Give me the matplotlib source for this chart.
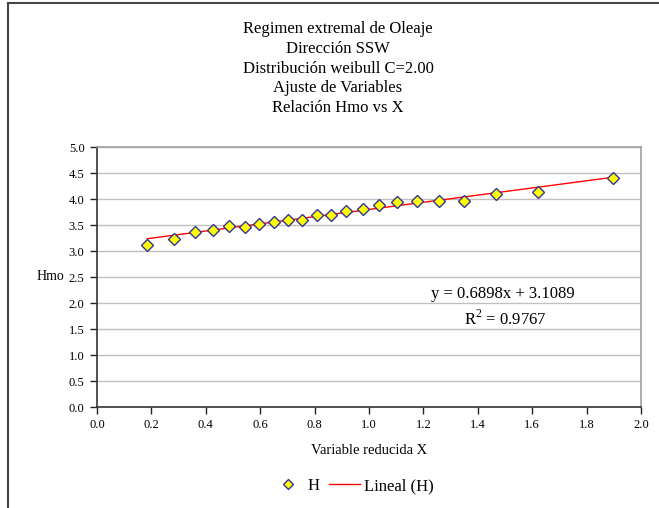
"""
Regimen extremal de oleaje, dirección SSW:
ajuste lineal de Hmo frente a la variable reducida X (Weibull C=2.00)
"""

import numpy as np
import matplotlib
matplotlib.use('Agg')
import matplotlib.pyplot as plt
from matplotlib.lines import Line2D

plt.rcParams['font.family'] = ['Liberation Serif', 'DejaVu Serif']

# Variable reducida X y altura Hmo de cada temporal
x_red = [0.185, 0.284, 0.360, 0.426, 0.487, 0.543, 0.597, 0.651, 0.702,
         0.754, 0.809, 0.860, 0.917, 0.977, 1.036, 1.103, 1.175, 1.257,
         1.349, 1.466, 1.623, 1.898]
hmo = [3.11, 3.24, 3.36, 3.40, 3.475, 3.47, 3.51, 3.56, 3.60,
       3.60, 3.70, 3.69, 3.76, 3.81, 3.88, 3.94, 3.96, 3.96,
       3.97, 4.09, 4.13, 4.41]

# Recta de regresión y coeficiente de determinación
slope = 0.6898
intercept = 3.1089
r2 = 0.9767

title_lines = ['Regimen extremal de Oleaje',
               'Dirección SSW',
               'Distribución weibull C=2.00',
               'Ajuste de Variables',
               'Relación Hmo vs X']

W, H = 659, 508
fig = plt.figure(figsize=(W / 100, H / 100), dpi=100)
ax = fig.add_axes([97 / W, 1 - 407 / H, 544 / W, 260 / H])

x_arr = np.array(x_red)
x_fit = np.array([x_arr.min(), x_arr.max()])
ax.plot(x_fit, slope * x_fit + intercept, color='#ff0000', linewidth=1.0,
        zorder=2)
ax.plot(x_red, hmo, linestyle='none', marker='D', markersize=6,
        markerfacecolor='#ffff00', markeredgecolor='#333399',
        markeredgewidth=1.0, zorder=3)

ax.set_xlim(0, 2.0)
ax.set_ylim(0, 5.0)
ax.set_xticks(np.arange(0, 2.01, 0.2))
ax.set_yticks(np.arange(0, 5.01, 0.5))
ax.xaxis.set_major_formatter(plt.FormatStrFormatter('%.1f'))
ax.yaxis.set_major_formatter(plt.FormatStrFormatter('%.1f'))
ax.tick_params(axis='both', direction='out', length=5, width=1,
               color='#222222', labelsize=9, pad=4)
ax.grid(axis='y', color='#c0c0c0', linewidth=1.0)
ax.set_axisbelow(True)

for side in ['left', 'bottom']:
    ax.spines[side].set_color('#333333')
    ax.spines[side].set_linewidth(1.2)
for side in ['top', 'right']:
    ax.spines[side].set_color('#a0a0a0')
    ax.spines[side].set_linewidth(1.2)

ax.set_xlabel('Variable reducida X', fontsize=10.5, labelpad=9)
fig.text(37 / W, 1 - 277 / H, 'Hmo', fontsize=10, ha='left', va='center')

# Ecuación de la recta y R²
ax.text(503 / W, 1 - 294 / H, f'y = {slope:.4f}x + {intercept:.4f}',
        transform=fig.transFigure, fontsize=12, ha='center', va='center')
ax.text(505 / W, 1 - 319 / H, f'R$^{{\\mathregular{{2}}}}$ = {r2:.4f}',
        transform=fig.transFigure, fontsize=12, ha='center', va='center')

# Título en varias líneas
for i, line in enumerate(title_lines):
    fig.text(338 / W, 1 - (29 + 19.8 * i) / H, line, fontsize=12,
             ha='center', va='center')

# Leyenda
handles = [Line2D([], [], linestyle='none', marker='D', markersize=5,
                  markerfacecolor='#ffff00', markeredgecolor='#333399'),
           Line2D([], [], color='#ff0000', linewidth=1.0)]
fig.legend(handles, ['H', 'Lineal (H)'], loc='center',
           bbox_to_anchor=(353 / W, 1 - 486 / H), ncol=2, frameon=False,
           fontsize=12, handlelength=1.85, handletextpad=0.25,
           columnspacing=0.55)

# Marco del área del gráfico
fig.add_artist(Line2D([8 / W, 8 / W], [0, 1 - 3 / H], color='#444444',
                      linewidth=1.5, transform=fig.transFigure))
fig.add_artist(Line2D([8 / W, 1], [1 - 3 / H, 1 - 3 / H], color='#444444',
                      linewidth=1.5, transform=fig.transFigure))

fig.savefig('out.png', dpi=100)
